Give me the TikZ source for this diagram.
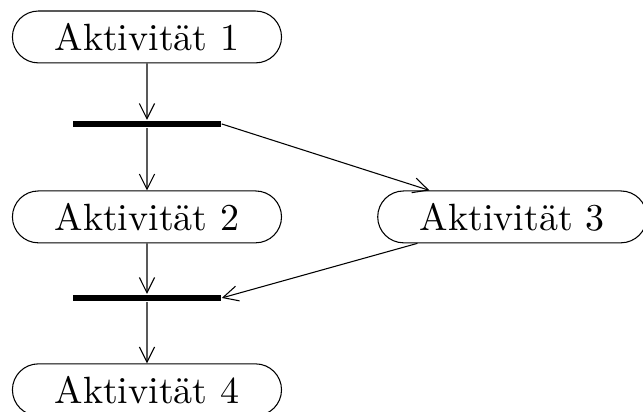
\documentclass[tikz,border=0pt]{standalone}
\usepackage{tikz}
\usetikzlibrary{arrows.meta,shapes.misc}

\begin{document}
\begin{tikzpicture}[
  act/.style={draw, line width=0.28pt, rounded rectangle, minimum width=2.49cm, minimum height=0.48cm, inner sep=0pt},
  syncbar/.style={fill=black, minimum width=1.37cm, minimum height=0.062cm, inner sep=0pt},
  arr/.style={-{Straight Barb[length=4pt,width=4pt]}, line width=0.28pt}
]
\useasboundingbox (0,0) rectangle (5.95,-3.81);
\node[act] (akt1) at (1.36,-0.342) {Aktivität 1};
\node[syncbar] (bar1) at (1.36,-1.147) {};
\node[act] (akt2) at (1.36,-2.007) {Aktivität 2};
\node[act] (akt3) at (4.74,-2.007) {Aktivität 3};
\node[syncbar] (bar2) at (1.36,-2.757) {};
\node[act] (akt4) at (1.36,-3.607) {Aktivität 4};
\draw[arr] (akt1) -- (bar1);
\draw[arr] (bar1) -- (akt2);
\draw[arr] (bar1.east) -- (akt3);
\draw[arr] (akt2) -- (bar2);
\draw[arr] (akt3) -- (bar2.east);
\draw[arr] (bar2) -- (akt4);
\end{tikzpicture}
\end{document}
